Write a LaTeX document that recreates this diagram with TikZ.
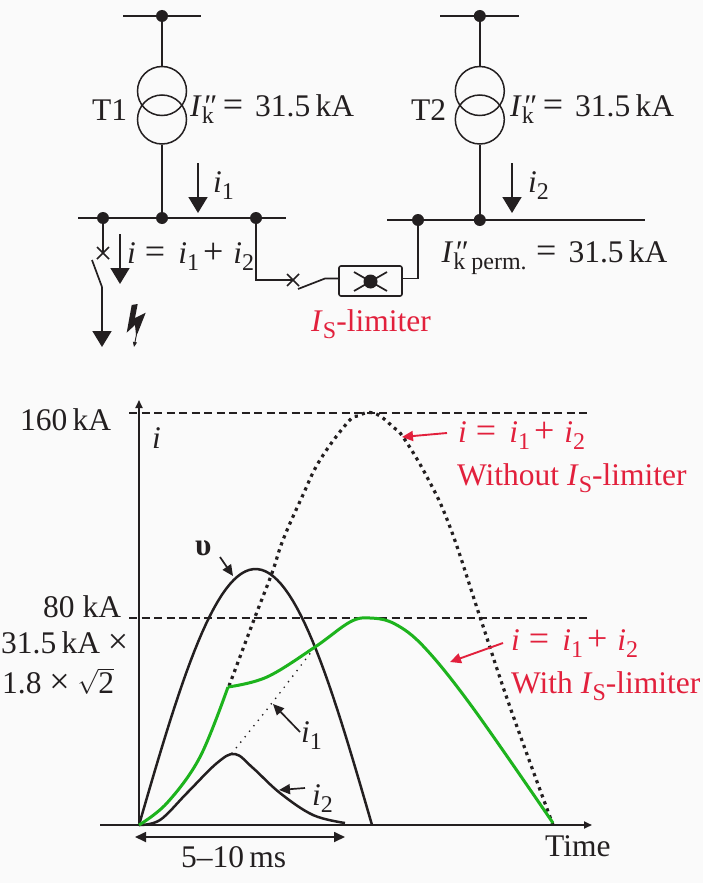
\documentclass[tikz,border=0pt]{standalone}
\usepackage{fontspec}
\setmainfont{Liberation Serif}
\usetikzlibrary{arrows.meta}
\definecolor{ink}{HTML}{231F20}
\definecolor{limred}{HTML}{E2203C}
\definecolor{limgreen}{HTML}{1DB31D}
\definecolor{paper}{HTML}{FAFAFA}
\tikzset{
  wire/.style={draw=ink,line width=1.7pt},
  curve/.style={draw=ink,line width=2.5pt},
  junction/.style={circle,fill=ink,inner sep=0pt,minimum size=12pt},
  winding/.style={circle,draw=ink,line width=1.5pt,inner sep=0pt,minimum size=49pt},
  lbl/.style={anchor=base west,inner sep=0pt,text=ink,font=\fontsize{31.5}{36}\selectfont},
  redlbl/.style={lbl,text=limred},
  bigtip/.style={-{Triangle[length=16pt,width=19pt]}},
  axistip/.style={-{Triangle[length=8pt,width=7pt]}},
  smalltip/.style={-{Triangle[length=11pt,width=10pt]}},
  refline/.style={draw=ink,line width=2pt,dash pattern=on 8pt off 4.5pt},
}
\newcommand{\Low}[1]{\raisebox{-7.5pt}{\fontsize{24}{26}\selectfont #1}}
\newcommand{\Wide}[1]{{\fontsize{36}{36}\selectfont #1}}
\newcommand{\Ii}[1]{\textit{i}\Low{#1}}
\newcommand{\Ik}[1]{\textit{I}\rlap{\hspace{0.5pt}\textit{″}}\Low{#1}}
\newcommand{\Ival}{\Wide{=}\hspace{12pt}31.5\,kA}
\newcommand{\Isum}{\textit{i}\hspace{9pt}\Wide{=}\hspace{13pt}\Ii{1}\hspace{4pt}\Wide{+}\hspace{10pt}\Ii{2}}
\newcommand{\Isl}{\textit{I}\Low{S}-limiter}
\begin{document}
\begin{tikzpicture}[x=1pt,y=-1pt]
  \fill[paper] (0,0) rectangle (703,883);
  \useasboundingbox (0,0) rectangle (703,883);
  % T1 side
  \node[junction] (busa) at (162,16) {};
  \coordinate (busal) at (123,16);
  \coordinate (busar) at (201,16);
  \node[winding] (t1u) at (162,91) {};
  \node[winding] (t1d) at (162,119.5) {};
  \node[junction] (jb) at (103,218) {};
  \node[junction] (jc) at (162,218) {};
  \node[junction] (jd) at (256,218) {};
  \coordinate (barl) at (78,218);
  \coordinate (barr) at (286,218);
  \draw[wire] (busal) -- (busar);
  \draw[wire] (busa) -- (t1u);
  \draw[wire] (t1d) -- (jc);
  \draw[wire] (barl) -- (barr);
  \node[lbl] (t1) at (92,120) {T1};
  \node[lbl] (ika) at (190,116) {\Ik{k}\hspace{9pt}\Ival};
  \coordinate (ione) at (198,163);
  \coordinate (ionee) at (198,213);
  \draw[wire,bigtip] (ione) -- (ionee);
  \node[lbl] (lione) at (213,192) {\Ii{1}};
  % fault branch
  \coordinate (xa) at (103,253);
  \coordinate (swa) at (92,260);
  \coordinate (swb) at (102,287);
  \coordinate (fault) at (102,347);
  \draw[wire] (jb) -- (xa);
  \draw[wire] (97,247) -- (109,259);
  \draw[wire] (97,259) -- (109,247);
  \draw[wire] (swa) -- (swb);
  \draw[wire,bigtip] (swb) -- (fault);
  \coordinate (ifa) at (120,234);
  \coordinate (ifb) at (120,284);
  \draw[wire,bigtip] (ifa) -- (ifb);
  \node[lbl] (lisum) at (127,263) {\Isum};
  % lightning
  \fill[ink] (131.7,305) -- (137.7,304) -- (135,318) -- (145.7,312.7) -- (137.7,333) -- (136,335) -- (135,325) -- (126.7,332.7) -- cycle;
  \draw[ink,line width=0.9pt,-{Triangle[length=5pt,width=4pt]}] (137,332) -- (134,347);
  % limiter
  \node[draw=ink,line width=1.6pt,rounded corners=2pt,minimum width=63pt,minimum height=30pt,inner sep=0pt] (lim) at (370.5,281) {};
  \node[junction,minimum size=14pt] (limdot) at (370.5,281.5) {};
  \draw[wire] (354,272) -- (387,291);
  \draw[wire] (354,291) -- (387,272);
  \coordinate (ca) at (256,280);
  \coordinate (cb) at (293,280);
  \coordinate (bla) at (298,289);
  \coordinate (blb) at (325,278.5);
  \draw[wire] (jd) -- (ca) -- (cb);
  \draw[wire] (287,274) -- (299,286);
  \draw[wire] (287,286) -- (299,274);
  \draw[wire] (bla) -- (blb) -- (lim.west |- blb);
  \node[redlbl] (lim1) at (311,331) {\Isl};
  % T2 side
  \node[junction] (busb) at (479.8,16) {};
  \coordinate (busbl) at (440,16);
  \coordinate (busbr) at (519,16);
  \node[winding] (t2u) at (479.8,91) {};
  \node[winding] (t2d) at (479.8,119.5) {};
  \node[junction] (je) at (418,220) {};
  \node[junction] (jf) at (479.8,220) {};
  \coordinate (bar2l) at (387,220);
  \coordinate (bar2r) at (645,220);
  \draw[wire] (busbl) -- (busbr);
  \draw[wire] (busb) -- (t2u);
  \draw[wire] (t2d) -- (jf);
  \draw[wire] (bar2l) -- (bar2r);
  \draw[wire] (lim.east |- blb) -| (je);
  \node[lbl] (t2) at (411,120) {T2};
  \node[lbl] (ikb) at (510,116) {\Ik{k}\hspace{9pt}\Ival};
  \coordinate (itwo) at (512,163);
  \coordinate (itwoe) at (512,213);
  \draw[wire,bigtip] (itwo) -- (itwoe);
  \node[lbl] (litwo) at (528,192) {\Ii{2}};
  \node[lbl] (ikp) at (441.5,262) {\Ik{k perm.}};
  \node[lbl] (ikpv) at (536,262) {\Ival};
  % axes
  \coordinate (org) at (139,825);
  \coordinate (ytop) at (139,400);
  \coordinate (xl) at (100,825);
  \coordinate (xr) at (592,825);
  \draw[wire,axistip] (org) -- (ytop);
  \draw[wire,axistip] (xl) -- (xr);
  \draw[refline] (129,412.5) -- (587,412.5);
  \draw[refline] (129,617.5) -- (587,617.5);
  \node[lbl] (l160) at (20,430) {160\,kA};
  \node[lbl] (l80) at (43,617) {80 kA};
  \node[lbl] (lfa) at (1,653) {31.5\,kA \Wide{×}};
  \node[lbl] (lfb) at (2,693) {1.8 \Wide{×} $\sqrt{\mbox{2}}$};
  \node[lbl] (li) at (152,448) {\textit{i}};
  \node[lbl] (ltime) at (545,856) {Time};
  \coordinate (da) at (135,837);
  \coordinate (db) at (345,837);
  \draw[wire,{Triangle[length=11pt,width=10pt]}-{Triangle[length=11pt,width=10pt]}] (da) -- (db);
  \node[lbl] (lms) at (181,867) {5--10\,ms};
  % curves
  \draw[curve,domain=0:233,samples=60] plot ({139+\x},{825-256*sin(\x/233*180)});
  \draw[curve] plot[smooth,tension=0.6] coordinates {(139,825) (160,820) (187,793) (217,763) (235,754) (253,768) (280,793) (313,815) (345,823)};
  \draw[ink,line width=1.9pt,dash pattern=on 0pt off 7pt,line cap=round] plot[smooth,tension=0.6] coordinates {(232,753) (272,703) (315,647)};
  \draw[ink,line width=3.2pt,dash pattern=on 3.2pt off 4.3pt] plot[smooth,tension=0.7] coordinates {(229,686) (255,617) (272,573) (283,540) (302,497) (320,460) (348,422) (358,416) (369,412.5) (380,416) (393,427) (403,437) (427,477) (450,527) (480,617) (510,707) (553,825)};
  \draw[limgreen,line width=3pt] plot[smooth,tension=0.6] coordinates {(139,825) (167,803) (200,757) (228,687)};
  \draw[limgreen,line width=3pt] plot[smooth,tension=0.6] coordinates {(228,687) (267,677) (315,647) (350,622) (370,618) (395,624) (425,648) (473,708) (553,823)};
  % labels on the curves
  \node[lbl] (lups) at (195,555) {\textbf{υ}};
  \coordinate (upsa) at (220,557);
  \coordinate (upsb) at (233,576);
  \draw[wire,smalltip] (upsa) -- (upsb);
  \node[lbl] (lcone) at (301,742) {\Ii{1}};
  \coordinate (conea) at (300,732);
  \coordinate (coneb) at (273,704);
  \draw[wire,smalltip] (conea) -- (coneb);
  \node[lbl] (lctwo) at (312,805) {\Ii{2}};
  \coordinate (ctwoa) at (305,788);
  \coordinate (ctwob) at (279,790);
  \draw[wire,smalltip] (ctwoa) -- (ctwob);
  \node[redlbl] (lwoa) at (458,442) {\Isum};
  \node[redlbl] (lwob) at (457,485) {Without \Isl};
  \coordinate (wa) at (447,433);
  \coordinate (wb) at (402,437);
  \draw[limred,line width=1.9pt,smalltip] (wa) -- (wb);
  \node[redlbl] (lwa) at (511,650) {\Isum};
  \node[redlbl] (lwb) at (511,693) {With \Isl};
  \coordinate (wc) at (503,643);
  \coordinate (wd) at (450,662);
  \draw[limred,line width=1.9pt,smalltip] (wc) -- (wd);
\end{tikzpicture}
\end{document}
